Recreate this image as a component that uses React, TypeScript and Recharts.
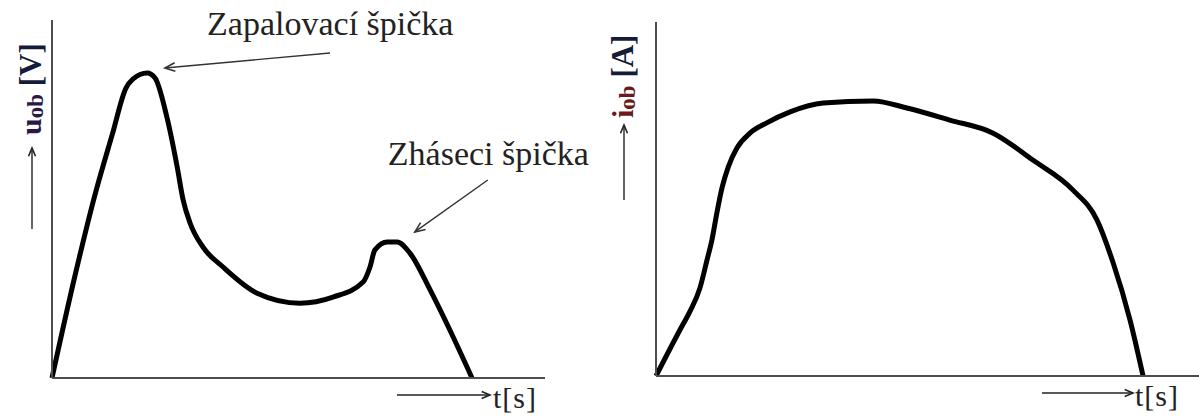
import React from 'react';
import { LineChart, Line, XAxis, YAxis, ReferenceLine } from 'recharts';

// napětí na oblouku (levý graf)
const uTime = [0, 4.7, 8.7, 12.2, 15.0, 16.4, 19.3, 20.9, 23.3, 25.4, 26.6, 28.0, 30.6, 34.7, 41.6, 50.3, 57.0, 63.1, 64.5, 65.5, 68.0, 70.0, 72.6, 76.7, 80.7, 85.2];
const uValues = [0, 28.8, 51.1, 67.9, 81.0, 83.5, 85.2, 83.8, 72.9, 58.9, 49.7, 43.3, 36.6, 31.0, 23.7, 20.9, 22.6, 26.8, 31.0, 35.8, 38.0, 38.0, 34.9, 24.6, 13.4, 0];

// proud obloukem (pravý graf)
const iTime = [0, 4.4, 6.3, 8.1, 9.4, 10.3, 11.2, 12.2, 13.3, 14.9, 17.3, 20.4, 24.7, 30.8, 40, 46.2, 54.1, 62.1, 69.4, 76.8, 81.2, 84.2, 87.3, 89.7];
const iValues = [0, 13.0, 18.4, 24.9, 32.8, 38.4, 46.0, 53.4, 59.0, 64.4, 68.6, 71.5, 74.6, 77.1, 77.7, 75.7, 72.3, 68.6, 61.0, 52.5, 44.1, 31.9, 15.8, 0];

const annotations = [
  { text: 'Zapalovací špička', from: { t: 56.4, u: 90.8 }, to: { t: 22.9, u: 86.6 }, dx: -123, dy: -18 },
  { text: 'Zháseci špička', from: { t: 88.4, u: 55.3 }, to: { t: 73.6, u: 40.8 }, dx: -100, dy: -15 },
];

const uData = uTime.map((t, i) => ({ t, v: uValues[i] }));
const iData = iTime.map((t, i) => ({ t, v: iValues[i] }));

const serif = '"Liberation Serif", "Times New Roman", serif';
const axisStroke = '#4d4d4d';

const arrowHead = (x1: number, y1: number, x2: number, y2: number, len = 10) => {
  const a = Math.atan2(y2 - y1, x2 - x1);
  const p1 = [x2 - len * Math.cos(a - 0.4), y2 - len * Math.sin(a - 0.4)];
  const p2 = [x2 - len * Math.cos(a + 0.4), y2 - len * Math.sin(a + 0.4)];
  return `M${p1[0]},${p1[1]} L${x2},${y2} L${p2[0]},${p2[1]}`;
};

const annotationShape = (text: string, dx: number, dy: number) => (p: any) => {
  const { x1, y1, x2, y2 } = p;
  return (
    <g>
      <line x1={x1} y1={y1} x2={x2} y2={y2} stroke="#333" strokeWidth={1.4} />
      <path d={arrowHead(x1, y1, x2, y2, 11)} fill="none" stroke="#333" strokeWidth={1.6} />
      <text x={x1 + dx} y={y1 + dy} fontFamily={serif} fontSize={34} fill="#222">
        {text}
      </text>
    </g>
  );
};

const timeLabel = (arrowFrom: number, arrowTo: number, textX: number) => (p: any) => {
  const vb = p.viewBox || {};
  const x0 = vb.x ?? 0;
  const y0 = vb.y ?? 0;
  return (
    <g>
      <line x1={x0 + arrowFrom} y1={y0 + 17} x2={x0 + arrowTo} y2={y0 + 17} stroke="#222" strokeWidth={1.4} />
      <path d={arrowHead(x0 + arrowFrom, y0 + 17, x0 + arrowTo, y0 + 17, 9)} fill="none" stroke="#222" strokeWidth={1.6} />
      <text x={x0 + textX} y={y0 + 30} fontFamily={serif} fontSize={30} fill="#222" letterSpacing={1}>
        t[s]
      </text>
    </g>
  );
};

const quantityLabel = (sym: string, unit: string, symColor: string, dxText: number, textBottom: number, arrowTop: number, arrowBottom: number) => (p: any) => {
  const vb = p.viewBox || {};
  const x0 = (vb.x ?? 0) + (vb.width ?? 0);
  const y0 = vb.y ?? 0;
  const tx = x0 + dxText;
  const ty = y0 + textBottom;
  const ax = tx - 9;
  return (
    <g>
      <text x={tx} y={ty} transform={`rotate(-90, ${tx}, ${ty})`} fontFamily={serif} fontWeight="bold">
        <tspan fontSize={30} fill={symColor}>{sym}</tspan>
        <tspan fontSize={23} fill={symColor} dy={2}>ob</tspan>
        <tspan fontSize={31} fill="#141c3a" dy={-2}> [{unit}]</tspan>
      </text>
      <line x1={ax} y1={y0 + arrowBottom} x2={ax} y2={y0 + arrowTop} stroke="#222" strokeWidth={1.4} />
      <path d={arrowHead(ax, y0 + arrowBottom, ax, y0 + arrowTop, 9)} fill="none" stroke="#222" strokeWidth={1.6} />
    </g>
  );
};

export default function App() {
  return (
    <div style={{ position: 'absolute', left: 0, top: 0, width: 1199, height: 417, background: '#fff' }}>
      <div style={{ position: 'absolute', left: 0, top: 0 }}>
        <LineChart width={600} height={417} data={uData} margin={{ top: 20, right: 55, bottom: 38, left: 51 }}>
          <XAxis
            type="number"
            dataKey="t"
            domain={[0, 100]}
            height={1}
            tick={false}
            tickLine={false}
            axisLine={{ stroke: axisStroke, strokeWidth: 2 }}
            label={{ content: timeLabel(345, 438, 441) }}
          />
          <YAxis
            type="number"
            domain={[0, 100]}
            width={1}
            tick={false}
            tickLine={false}
            axisLine={{ stroke: axisStroke, strokeWidth: 2 }}
            label={{ content: quantityLabel('u', 'V', '#2a1848', -11, 115, 128, 209) }}
          />
          {annotations.map((a) => (
            <ReferenceLine
              key={a.text}
              segment={[{ x: a.from.t, y: a.from.u }, { x: a.to.t, y: a.to.u }]}
              shape={annotationShape(a.text, a.dx, a.dy)}
            />
          ))}
          <Line type="monotone" dataKey="v" stroke="#000" strokeWidth={5} dot={false} isAnimationActive={false} />
        </LineChart>
      </div>
      <div style={{ position: 'absolute', left: 590, top: 0 }}>
        <LineChart width={609} height={417} data={iData} margin={{ top: 22, right: 0, bottom: 40, left: 65 }}>
          <XAxis
            type="number"
            dataKey="t"
            domain={[0, 100]}
            height={1}
            tick={false}
            tickLine={false}
            axisLine={{ stroke: axisStroke, strokeWidth: 2 }}
            label={{ content: timeLabel(386, 477, 479) }}
          />
          <YAxis
            type="number"
            domain={[0, 100]}
            width={1}
            tick={false}
            tickLine={false}
            axisLine={{ stroke: axisStroke, strokeWidth: 2 }}
            label={{ content: quantityLabel('i', 'A', '#6a1a1a', -23, 96, 103, 178) }}
          />
          <Line type="monotone" dataKey="v" stroke="#000" strokeWidth={5} dot={false} isAnimationActive={false} />
        </LineChart>
      </div>
    </div>
  );
}
